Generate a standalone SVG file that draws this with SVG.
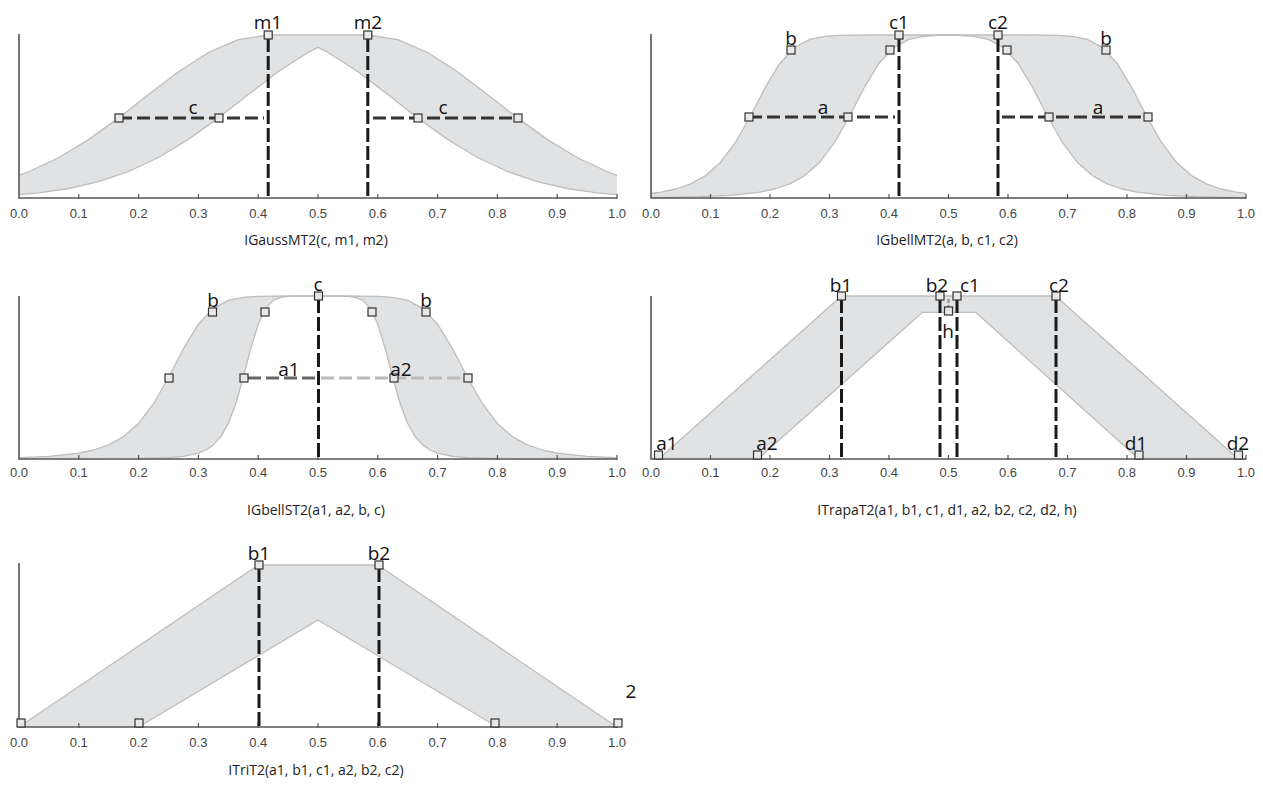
<svg xmlns="http://www.w3.org/2000/svg" width="1263" height="786" viewBox="0 0 1263 786">
<style>
.bg{fill:#ffffff}
.band{fill:#e1e2e4;stroke:none}
.curve{fill:none;stroke:#bdbdbd;stroke-width:1.3;stroke-linejoin:round}
.axis{fill:none;stroke:#555;stroke-width:1.6}
.tick{fill:none;stroke:#555;stroke-width:1.2}
.tl{font-family:"Liberation Sans Narrow","Liberation Sans",Arial,sans-serif;font-size:13px;fill:#444;text-anchor:middle}
.cap{font-family:"Open Sans","Noto Sans",sans-serif;font-size:14px;fill:#222;text-anchor:middle}
.lab{font-family:"Open Sans","Noto Sans",sans-serif;font-size:19px;fill:#111;text-anchor:middle}
.vd{fill:none;stroke:#1a1a1a;stroke-width:3;stroke-dasharray:14 4}
.hd{fill:none;stroke:#333;stroke-width:3;stroke-dasharray:13 5}
.sq{fill:#e8e8e8;stroke:#333;stroke-width:1.2}
</style>
<rect class="bg" x="0" y="0" width="1263" height="786"/>

<g id="panel-igaussmt2">
<path class="band" d="M19,175.3 L29,171.5 58.9,157.5 88.8,139.4 118.7,117.9 148.6,94.5 178.5,71.8 208.4,52.5 238.3,39.6 268.2,35 367.8,35 397.7,39.6 427.6,52.5 457.5,71.8 487.4,94.5 517.3,117.9 547.2,139.4 577.1,157.5 607,171.5 617,175.3 L617,194.6 597.1,192.8 567.2,188.5 537.3,181.7 507.4,171.5 477.5,157.5 447.6,139.4 417.7,117.9 387.8,94.5 357.9,71.8 328,52.5 318,47.4 308,52.5 278.1,71.8 248.2,94.5 218.3,117.9 188.4,139.4 158.5,157.5 128.6,171.5 98.7,181.7 68.8,188.5 38.9,192.8 19,194.6 Z"/>
<polyline class="curve" points="19,175.3 29,171.5 58.9,157.5 88.8,139.4 118.7,117.9 148.6,94.5 178.5,71.8 208.4,52.5 238.3,39.6 268.2,35 367.8,35 397.7,39.6 427.6,52.5 457.5,71.8 487.4,94.5 517.3,117.9 547.2,139.4 577.1,157.5 607,171.5 617,175.3"/>
<polyline class="curve" points="19,194.6 38.9,192.8 68.8,188.5 98.7,181.7 128.6,171.5 158.5,157.5 188.4,139.4 218.3,117.9 248.2,94.5 278.1,71.8 308,52.5 318,47.4 328,52.5 357.9,71.8 387.8,94.5 417.7,117.9 447.6,139.4 477.5,157.5 507.4,171.5 537.3,181.7 567.2,188.5 597.1,192.8 617,194.6"/>
<path class="axis" d="M19,34 V198 H617"/>
<path class="tick" d="M78.8,194v5M138.6,194v5M198.4,194v5M258.2,194v5M318,194v5M377.8,194v5M437.6,194v5M497.4,194v5M557.2,194v5M617,194v5"/>
<g class="tl"><text x="19" y="218">0.0</text><text x="78.8" y="218">0.1</text><text x="138.6" y="218">0.2</text><text x="198.4" y="218">0.3</text><text x="258.2" y="218">0.4</text><text x="318" y="218">0.5</text><text x="377.8" y="218">0.6</text><text x="437.6" y="218">0.7</text><text x="497.4" y="218">0.8</text><text x="557.2" y="218">0.9</text><text x="617" y="218">1.0</text></g>
<line class="vd" x1="268.2" y1="38" x2="268.2" y2="198"/>
<line class="vd" x1="367.8" y1="38" x2="367.8" y2="198"/>
<line class="hd" x1="119" y1="118" x2="264" y2="118"/>
<line class="hd" x1="373" y1="118" x2="517" y2="118"/>
<rect class="sq" x="264.2" y="31" width="8" height="8"/>
<rect class="sq" x="363.8" y="31" width="8" height="8"/>
<rect class="sq" x="115" y="114" width="8" height="8"/>
<rect class="sq" x="215" y="114" width="8" height="8"/>
<rect class="sq" x="414" y="114" width="8" height="8"/>
<rect class="sq" x="514" y="114" width="8" height="8"/>
<text class="lab" x="268" y="29">m1</text>
<text class="lab" x="368" y="29">m2</text>
<text class="lab" x="193" y="114">c</text>
<text class="lab" x="443" y="114">c</text>
<text class="cap" x="316" y="245">IGaussMT2(c, m1, m2)</text>
</g>

<g id="panel-igbellmt2">
<path class="band" d="M651,193.5 L660.9,192.1 675.8,189 690.7,183.9 705.6,175.6 720.4,162.4 735.3,142.7 750.2,116.5 765.1,87.7 780,63.2 794.8,47.4 809.7,39.4 824.6,36.3 839.5,35.3 869.2,35 899,35 998,35 1027.8,35 1057.5,35.3 1072.4,36.3 1087.3,39.4 1102.2,47.4 1117,63.2 1131.9,87.7 1146.8,116.5 1161.7,142.7 1176.6,162.4 1191.4,175.6 1206.3,183.9 1221.2,189 1236.1,192.1 1246,193.5 L1246,197.6 1226.2,197.3 1196.4,196.7 1166.7,195.4 1136.9,192.1 1122,189 1107.2,183.9 1092.3,175.6 1077.4,162.4 1062.6,142.7 1047.7,116.5 1032.8,87.7 1017.9,63.2 1003,47.4 988.2,39.4 973.3,36.3 958.4,35.3 948.5,35.1 938.6,35.3 923.7,36.3 908.8,39.4 894,47.4 879.1,63.2 864.2,87.7 849.3,116.5 834.4,142.7 819.6,162.4 804.7,175.6 789.8,183.9 775,189 760.1,192.1 730.3,195.4 700.6,196.7 670.8,197.3 651,197.6 Z"/>
<polyline class="curve" points="651,193.5 660.9,192.1 675.8,189 690.7,183.9 705.6,175.6 720.4,162.4 735.3,142.7 750.2,116.5 765.1,87.7 780,63.2 794.8,47.4 809.7,39.4 824.6,36.3 839.5,35.3 869.2,35 899,35 998,35 1027.8,35 1057.5,35.3 1072.4,36.3 1087.3,39.4 1102.2,47.4 1117,63.2 1131.9,87.7 1146.8,116.5 1161.7,142.7 1176.6,162.4 1191.4,175.6 1206.3,183.9 1221.2,189 1236.1,192.1 1246,193.5"/>
<polyline class="curve" points="651,197.6 670.8,197.3 700.6,196.7 730.3,195.4 760.1,192.1 775,189 789.8,183.9 804.7,175.6 819.6,162.4 834.4,142.7 849.3,116.5 864.2,87.7 879.1,63.2 894,47.4 908.8,39.4 923.7,36.3 938.6,35.3 948.5,35.1 958.4,35.3 973.3,36.3 988.2,39.4 1003,47.4 1017.9,63.2 1032.8,87.7 1047.7,116.5 1062.6,142.7 1077.4,162.4 1092.3,175.6 1107.2,183.9 1122,189 1136.9,192.1 1166.7,195.4 1196.4,196.7 1226.2,197.3 1246,197.6"/>
<path class="axis" d="M651,34 V198 H1246"/>
<path class="tick" d="M710.5,194v5M770,194v5M829.5,194v5M889,194v5M948.5,194v5M1008,194v5M1067.5,194v5M1127,194v5M1186.5,194v5M1246,194v5"/>
<g class="tl"><text x="651" y="218">0.0</text><text x="710.5" y="218">0.1</text><text x="770" y="218">0.2</text><text x="829.5" y="218">0.3</text><text x="889" y="218">0.4</text><text x="948.5" y="218">0.5</text><text x="1008" y="218">0.6</text><text x="1067.5" y="218">0.7</text><text x="1127" y="218">0.8</text><text x="1186.5" y="218">0.9</text><text x="1246" y="218">1.0</text></g>
<line class="vd" x1="899" y1="38" x2="899" y2="198"/>
<line class="vd" x1="998" y1="38" x2="998" y2="198"/>
<line class="hd" x1="749" y1="117" x2="895" y2="117"/>
<line class="hd" x1="1002" y1="117" x2="1148" y2="117"/>
<rect class="sq" x="895" y="31" width="8" height="8"/>
<rect class="sq" x="994" y="31" width="8" height="8"/>
<rect class="sq" x="787" y="46" width="8" height="8"/>
<rect class="sq" x="886" y="46" width="8" height="8"/>
<rect class="sq" x="1003" y="46" width="8" height="8"/>
<rect class="sq" x="1102" y="46" width="8" height="8"/>
<rect class="sq" x="745" y="113" width="8" height="8"/>
<rect class="sq" x="844" y="113" width="8" height="8"/>
<rect class="sq" x="1045" y="113" width="8" height="8"/>
<rect class="sq" x="1144" y="113" width="8" height="8"/>
<text class="lab" x="899" y="29">c1</text>
<text class="lab" x="998" y="29">c2</text>
<text class="lab" x="791" y="45">b</text>
<text class="lab" x="1106" y="45">b</text>
<text class="lab" x="823" y="114">a</text>
<text class="lab" x="1098" y="114">a</text>
<text class="cap" x="947" y="245">IGbellMT2(a, b, c1, c2)</text>
</g>

<g id="panel-igbellst2">
<path class="band" d="M19,457.7 L48.9,456.4 78.8,453.1 93.75,450 108.7,444.9 123.65,436.6 138.6,423.4 153.55,403.7 168.5,377.5 183.45,348.7 198.4,324.2 213.35,308.4 228.3,300.4 243.25,297.3 258.2,296.3 288.1,296 318,296 347.9,296 377.8,296.3 392.75,297.3 407.7,300.4 422.65,308.4 437.6,324.2 452.55,348.7 467.5,377.5 482.45,403.7 497.4,423.4 512.35,436.6 527.3,444.9 542.25,450 557.2,453.1 587.1,456.4 617,457.7 L617,459 557.2,459 497.4,458.6 467.5,457.7 452.55,456.4 437.6,453.1 430.1,450 422.65,444.9 415.2,436.6 407.7,423.4 400.2,403.7 392.75,377.5 385.3,348.7 377.8,324.2 370.3,308.4 362.85,300.4 355.4,297.3 347.9,296.3 318,296 288.1,296.3 280.6,297.3 273.15,300.4 265.7,308.4 258.2,324.2 250.7,348.7 243.25,377.5 235.8,403.7 228.3,423.4 220.8,436.6 213.35,444.9 205.9,450 198.4,453.1 183.45,456.4 168.5,457.7 138.6,458.6 78.8,459 19,459 Z"/>
<polyline class="curve" points="19,457.7 48.9,456.4 78.8,453.1 93.75,450 108.7,444.9 123.65,436.6 138.6,423.4 153.55,403.7 168.5,377.5 183.45,348.7 198.4,324.2 213.35,308.4 228.3,300.4 243.25,297.3 258.2,296.3 288.1,296 318,296 347.9,296 377.8,296.3 392.75,297.3 407.7,300.4 422.65,308.4 437.6,324.2 452.55,348.7 467.5,377.5 482.45,403.7 497.4,423.4 512.35,436.6 527.3,444.9 542.25,450 557.2,453.1 587.1,456.4 617,457.7"/>
<polyline class="curve" points="138.6,458.6 168.5,457.7 183.45,456.4 198.4,453.1 205.9,450 213.35,444.9 220.8,436.6 228.3,423.4 235.8,403.7 243.25,377.5 250.7,348.7 258.2,324.2 265.7,308.4 273.15,300.4 280.6,297.3 288.1,296.3 318,296 347.9,296.3 355.4,297.3 362.85,300.4 370.3,308.4 377.8,324.2 385.3,348.7 392.75,377.5 400.2,403.7 407.7,423.4 415.2,436.6 422.65,444.9 430.1,450 437.6,453.1 452.55,456.4 467.5,457.7 497.4,458.6"/>
<path class="axis" d="M19,296 V459 H617"/>
<path class="tick" d="M78.8,455v5M138.6,455v5M198.4,455v5M258.2,455v5M318,455v5M377.8,455v5M437.6,455v5M497.4,455v5M557.2,455v5M617,455v5"/>
<g class="tl"><text x="19" y="477">0.0</text><text x="78.8" y="477">0.1</text><text x="138.6" y="477">0.2</text><text x="198.4" y="477">0.3</text><text x="258.2" y="477">0.4</text><text x="318" y="477">0.5</text><text x="377.8" y="477">0.6</text><text x="437.6" y="477">0.7</text><text x="497.4" y="477">0.8</text><text x="557.2" y="477">0.9</text><text x="617" y="477">1.0</text></g>
<line class="vd" x1="318.5" y1="299" x2="318.5" y2="459"/>
<line class="hd" x1="248" y1="378" x2="316" y2="378" style="stroke:#666"/>
<line class="hd" x1="321" y1="378" x2="464" y2="378" style="stroke:#bbb"/>
<rect class="sq" x="314.5" y="292" width="8" height="8"/>
<rect class="sq" x="208.5" y="308" width="8" height="8"/>
<rect class="sq" x="261" y="308" width="8" height="8"/>
<rect class="sq" x="368" y="308" width="8" height="8"/>
<rect class="sq" x="422" y="308" width="8" height="8"/>
<rect class="sq" x="165" y="374" width="8" height="8"/>
<rect class="sq" x="240" y="374" width="8" height="8"/>
<rect class="sq" x="390" y="374" width="8" height="8"/>
<rect class="sq" x="464" y="374" width="8" height="8"/>
<text class="lab" x="318" y="291">c</text>
<text class="lab" x="213" y="307">b</text>
<text class="lab" x="426" y="307">b</text>
<text class="lab" x="289" y="376">a1</text>
<text class="lab" x="401" y="376">a2</text>
<text class="cap" x="316" y="515">IGbellST2(a1, a2, b, c)</text>
</g>

<g id="panel-itrapat2">
<path class="band" d="M658.7,459 L841.4,296 1055.6,296 1238.3,459 L1138.9,459 975.6,312.3 922.5,312.3 758,459 Z"/>
<polyline class="curve" points="658.7,459 841.4,296 1055.6,296 1238.3,459"/>
<polyline class="curve" points="758,459 922.5,312.3 975.6,312.3 1138.9,459"/>
<path class="axis" d="M651,296 V459 H1246"/>
<path class="tick" d="M710.5,455v5M770,455v5M829.5,455v5M889,455v5M948.5,455v5M1008,455v5M1067.5,455v5M1127,455v5M1186.5,455v5M1246,455v5"/>
<g class="tl"><text x="651" y="477">0.0</text><text x="710.5" y="477">0.1</text><text x="770" y="477">0.2</text><text x="829.5" y="477">0.3</text><text x="889" y="477">0.4</text><text x="948.5" y="477">0.5</text><text x="1008" y="477">0.6</text><text x="1067.5" y="477">0.7</text><text x="1127" y="477">0.8</text><text x="1186.5" y="477">0.9</text><text x="1246" y="477">1.0</text></g>
<line class="vd" x1="841.5" y1="299" x2="841.5" y2="459"/>
<line class="vd" x1="940" y1="299" x2="940" y2="459"/>
<line class="vd" x1="957" y1="299" x2="957" y2="459"/>
<line class="vd" x1="1056" y1="299" x2="1056" y2="459"/>
<line x1="948.5" y1="299" x2="948.5" y2="308" style="stroke:#999;stroke-width:2.5;stroke-dasharray:4 2"/>
<rect class="sq" x="837.5" y="292" width="8" height="8"/>
<rect class="sq" x="936" y="292" width="8" height="8"/>
<rect class="sq" x="953" y="292" width="8" height="8"/>
<rect class="sq" x="1052" y="292" width="8" height="8"/>
<rect class="sq" x="944.5" y="307" width="8" height="8"/>
<rect class="sq" x="654.5" y="451" width="8" height="8"/>
<rect class="sq" x="753.5" y="451" width="8" height="8"/>
<rect class="sq" x="1135" y="451" width="8" height="8"/>
<rect class="sq" x="1234.5" y="451" width="8" height="8"/>
<text class="lab" x="841" y="292">b1</text>
<text class="lab" x="937" y="292">b2</text>
<text class="lab" x="970" y="292">c1</text>
<text class="lab" x="1059" y="292">c2</text>
<text class="lab" x="948" y="338">h</text>
<text class="lab" x="667" y="450">a1</text>
<text class="lab" x="767" y="450">a2</text>
<text class="lab" x="1136" y="450">d1</text>
<text class="lab" x="1238" y="450">d2</text>
<text class="cap" x="947" y="515">ITrapaT2(a1, b1, c1, d1, a2, b2, c2, d2, h)</text>
</g>

<g id="panel-itrit2">
<path class="band" d="M19,727 L258.2,565 377.8,565 617,727 L497.4,727 318,620 138.6,727 Z"/>
<polyline class="curve" points="19,727 258.2,565 377.8,565 617,727"/>
<polyline class="curve" points="138.6,727 318,620 497.4,727"/>
<path class="axis" d="M19,563 V727 H617"/>
<path class="tick" d="M78.8,723v5M138.6,723v5M198.4,723v5M258.2,723v5M318,723v5M377.8,723v5M437.6,723v5M497.4,723v5M557.2,723v5M617,723v5"/>
<g class="tl"><text x="19" y="747">0.0</text><text x="78.8" y="747">0.1</text><text x="138.6" y="747">0.2</text><text x="198.4" y="747">0.3</text><text x="258.2" y="747">0.4</text><text x="318" y="747">0.5</text><text x="377.8" y="747">0.6</text><text x="437.6" y="747">0.7</text><text x="497.4" y="747">0.8</text><text x="557.2" y="747">0.9</text><text x="617" y="747">1.0</text></g>
<line class="vd" x1="259" y1="568" x2="259" y2="727"/>
<line class="vd" x1="379" y1="568" x2="379" y2="727"/>
<rect class="sq" x="255" y="561" width="8" height="8"/>
<rect class="sq" x="375" y="561" width="8" height="8"/>
<rect class="sq" x="17" y="719" width="8" height="8"/>
<rect class="sq" x="135" y="719" width="8" height="8"/>
<rect class="sq" x="491" y="719" width="8" height="8"/>
<rect class="sq" x="614" y="719" width="8" height="8"/>
<text class="lab" x="259" y="560">b1</text>
<text class="lab" x="379" y="560">b2</text>
<text class="lab" x="631" y="698">2</text>
<text class="cap" x="316" y="775">ITriT2(a1, b1, c1, a2, b2, c2)</text>
</g>

<g id="connectors"></g>
</svg>
